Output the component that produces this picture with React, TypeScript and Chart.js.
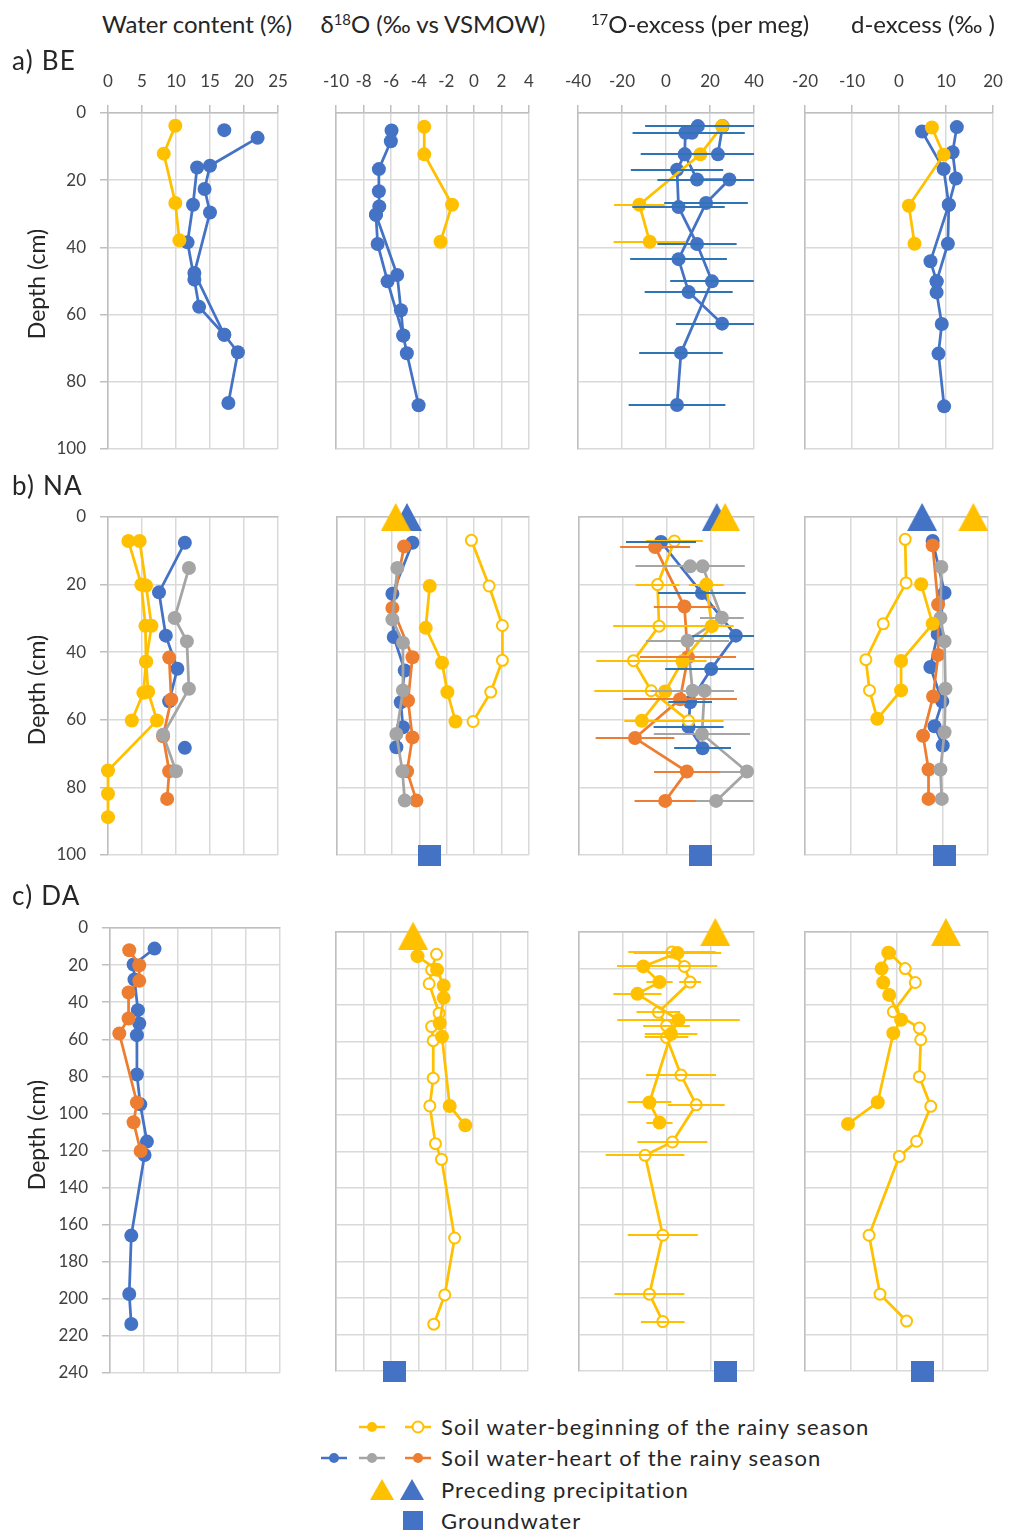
import React, { useEffect, useRef } from 'react';
import { Chart, registerables } from 'chart.js';

Chart.register(...registerables);

// ---------- colours & fonts ----------
const BLUE = '#4472C4';
const ORANGE = '#ED7D31';
const GRAY = '#A5A5A5';
const YELLOW = '#FFC000';
const BLUE_ERR = '#2E75B6';
const GRID = '#D9D9D9';
const AXIS = '#BFBFBF';
const TEXT = '#262626';
const TICK = '#404040';
const FONT = 'Lato, "Open Sans", "DejaVu Sans", sans-serif';

// ---------- axis ticks [min, max, step] ----------
const X_WC = [0, 25, 5];
const X_D18O = [-10, 4, 2];
const X_O17 = [-40, 40, 20];
const X_DEX = [-20, 20, 10];
const DEPTH_MAX_AB = 100;
const DEPTH_MAX_C = 240;
const DEPTH_STEP = 20;

// ---------- data: [value, depth (cm)] ----------
// a) BE
const BE_WC_BLUE_A = [[22.0, 7.4], [15.0, 15.7], [14.2, 22.6], [15.0, 29.6], [12.7, 47.6], [17.1, 66.0], [19.1, 71.2], [17.7, 86.3]];
const BE_WC_BLUE_B = [[13.1, 16.2], [12.5, 27.3], [11.7, 38.5], [12.7, 49.6], [13.4, 57.7], [17.1, 66.0]];
const BE_WC_BLUE_C = [[17.1, 5.1]];
const BE_WC_YEL = [[9.9, 3.8], [8.2, 12.1], [9.9, 26.8], [10.5, 37.9]];

const BE_D18O_BLUE_A = [[-5.97, 5.2], [-6.02, 8.4], [-6.89, 16.7], [-6.89, 23.3], [-6.86, 27.8], [-7.1, 30.3], [-5.56, 48.2], [-5.29, 58.7], [-5.12, 66.2], [-4.86, 71.5], [-4.01, 87.0]];
const BE_D18O_BLUE_B = [[-7.1, 30.3], [-6.98, 39.0], [-6.26, 50.1], [-5.12, 66.2]];
const BE_D18O_YEL = [[-3.6, 4.1], [-3.6, 12.3], [-1.58, 27.3], [-2.42, 38.3]];

const BE_O17_BLUE_A = [[14.5, 3.9], [11.8, 5.9], [8.8, 5.9], [8.5, 12.3], [5.0, 16.9], [5.7, 28.0], [14.1, 39.0], [20.9, 50.1], [6.8, 71.4], [5.0, 86.9]];
const BE_O17_BLUE_A_ERR = [24, 24, 24, 20, 21, 21, 18, 19, 19, 22];
const BE_O17_BLUE_B = [[25.7, 3.9], [23.6, 12.3]];
const BE_O17_BLUE_B_ERR = [22, 20];
const BE_O17_BLUE_C = [[8.5, 12.3], [14.1, 19.8], [28.8, 19.8], [18.2, 26.8], [5.7, 43.5], [10.3, 53.3], [25.5, 62.7]];
const BE_O17_BLUE_C_ERR = [0, 18, 20, 19, 22, 20, 21];
const BE_O17_YEL = [[25.5, 3.9], [15.6, 12.3], [-12.1, 27.3], [-7.4, 38.3]];
const BE_O17_YEL_ERR = [15, 20, 11.5, 16.4];

const BE_DX_BLUE_A = [[4.9, 5.5], [9.5, 16.7], [10.6, 27.3], [6.7, 44.1], [8.0, 50.1], [8.0, 53.4], [9.1, 62.8], [8.4, 71.6], [9.6, 87.3]];
const BE_DX_BLUE_B = [[12.3, 4.2], [11.4, 11.7], [12.1, 19.5], [10.6, 27.3], [10.4, 38.9], [8.0, 50.1]];
const BE_DX_YEL = [[7.0, 4.3], [9.5, 12.4], [2.1, 27.6], [3.3, 38.9]];

// b) NA
const NA_WC_YEL_1 = [[3.0, 7.1], [4.9, 20.0], [5.5, 32.2], [5.6, 42.8], [5.2, 52.0], [3.5, 60.2]];
const NA_WC_YEL_2 = [[4.65, 7.1], [5.6, 20.3], [6.4, 32.2], [5.6, 42.8], [5.9, 51.7], [7.2, 60.2], [0, 75.0], [0, 81.9], [0, 88.8]];
const NA_WC_BLUE = [[11.3, 7.6], [7.5, 22.3], [8.5, 35.1], [10.2, 44.9], [9.0, 54.5]];
const NA_WC_BLUE_2 = [[11.3, 68.3]];
const NA_WC_GRAY = [[11.9, 15.1], [9.8, 29.9], [11.6, 36.8], [11.9, 50.8], [8.1, 64.4], [10.0, 75.2]];
const NA_WC_ORANGE = [[9.0, 41.6], [9.3, 54.0], [8.1, 64.9], [9.0, 75.2], [8.7, 83.4]];

const NA_D18O_YEL_F = [[-3.24, 20.4], [-3.53, 32.8], [-2.34, 43.1], [-1.95, 51.8], [-1.36, 60.5]];
const NA_D18O_YEL_O = [[-0.2, 6.9], [1.09, 20.4], [2.06, 32.1], [2.06, 42.4], [1.21, 51.8], [-0.08, 60.5]];
const NA_D18O_BLUE = [[-4.5, 7.6], [-5.96, 22.7], [-5.86, 35.5], [-5.06, 45.4], [-5.35, 54.8], [-5.19, 62.2], [-5.67, 68.1]];
const NA_D18O_ORANGE = [[-5.11, 8.7], [-5.96, 26.9], [-4.5, 41.5], [-4.82, 54.3], [-4.5, 65.2], [-4.89, 75.2], [-4.21, 83.9]];
const NA_D18O_GRAY = [[-5.6, 15.1], [-5.96, 30.3], [-5.19, 37.2], [-5.19, 51.3], [-5.67, 64.2], [-5.23, 75.2], [-5.06, 83.9]];
const NA_D18O_RAIN_BLUE = [[-4.9, 0]];
const NA_D18O_RAIN_YEL = [[-5.72, 0]];
const NA_D18O_GW = [[-3.24, 100]];

const NA_O17_YEL_F = [[18.2, 20.0], [20.7, 32.3], [7.3, 42.7], [-0.6, 51.6], [-11.3, 60.3]];
const NA_O17_YEL_F_ERR = [8, 10, 11, 10, 8];
const NA_O17_YEL_O = [[3.6, 7.1], [-4.1, 20.0], [-3.4, 32.3], [-15.1, 42.5], [-7.0, 51.4], [10.1, 60.3]];
const NA_O17_YEL_O_ERR = [13, 10, 21, 17, 26, 16];
const NA_O17_BLUE = [[-2.5, 7.4], [16.2, 22.5], [31.7, 35.1], [20.4, 45.0], [10.8, 54.8], [10.1, 62.1], [16.5, 68.4]];
const NA_O17_BLUE_ERR = [16, 20, 20, 21, 10, 16, 13];
const NA_O17_ORANGE = [[-5.2, 8.9], [8.2, 26.5], [9.8, 41.5], [6.2, 53.9], [-14.4, 65.4], [9.3, 75.3], [-0.6, 84.0]];
const NA_O17_ORANGE_ERR = [16, 14, 22, 26, 18, 15, 14];
const NA_O17_GRAY = [[10.8, 14.6], [16.5, 14.6], [25.3, 29.8], [9.6, 36.6], [11.9, 51.4], [17.4, 51.4], [16.2, 64.2], [36.8, 75.3], [22.7, 84.0]];
const NA_O17_GRAY_ERR = [25, 0, 10, 19, 19, 0, 22, 20, 17];
const NA_O17_RAIN_BLUE = [[23.0, 0]];
const NA_O17_RAIN_YEL = [[26.8, 0]];
const NA_O17_GW = [[15.4, 100]];

const NA_DX_YEL_O = [[1.9, 6.6], [2.1, 19.5], [-2.9, 31.6], [-6.7, 42.2], [-5.9, 51.3], [-4.2, 59.7]];
const NA_DX_YEL_F = [[5.4, 19.9], [7.9, 31.6], [1.0, 42.6], [1.0, 51.3], [-4.2, 59.7]];
const NA_DX_BLUE = [[7.9, 7.1], [10.5, 22.4], [9.0, 34.6], [7.4, 44.4], [10.0, 54.6], [8.3, 61.9], [10.1, 67.6]];
const NA_DX_ORANGE = [[7.9, 8.4], [9.1, 25.9], [9.1, 40.8], [8.0, 53.1], [5.8, 64.7], [7.0, 74.7], [7.0, 83.4]];
const NA_DX_GRAY = [[9.8, 14.8], [9.6, 29.9], [10.5, 36.8], [10.7, 50.8], [10.5, 63.7], [9.6, 74.7], [9.9, 83.4]];
const NA_DX_RAIN_BLUE = [[5.6, 0]];
const NA_DX_RAIN_YEL = [[16.8, 0]];
const NA_DX_GW = [[10.5, 100]];

// c) DA
const DA_WC_BLUE = [[6.55, 11.1], [3.47, 19.7], [3.6, 27.8], [4.1, 44.3], [4.3, 51.5], [3.96, 57.8], [3.96, 79.0], [4.45, 95.1], [5.43, 115.2], [5.08, 122.4], [3.13, 165.9], [2.83, 197.4], [3.13, 213.6]];
const DA_WC_ORANGE = [[2.83, 12.0], [4.3, 20.1], [4.3, 28.5], [2.73, 34.8], [2.73, 48.8], [1.37, 56.9], [3.96, 94.1], [3.47, 104.8], [4.5, 120.3]];

const DA_D18O_YEL_F = [[-4.06, 13.2], [-2.63, 20.7], [-2.15, 29.3], [-2.15, 36.0], [-2.44, 49.9], [-2.27, 57.2], [-1.71, 95.1], [-0.57, 105.7]];
const DA_D18O_YEL_O = [[-2.67, 12.2], [-3.03, 20.7], [-3.21, 28.3], [-2.48, 44.4], [-3.03, 51.7], [-2.91, 59.4], [-2.91, 79.9], [-3.16, 95.1], [-2.75, 115.7], [-2.31, 124.3], [-1.35, 167.3], [-2.07, 198.4], [-2.87, 214.4]];
const DA_D18O_RAIN_YEL = [[-4.38, 2]];
const DA_D18O_GW = [[-5.7, 240]];

const DA_O17_YEL_F = [[5.0, 11.5], [-10.6, 18.8], [-3.2, 27.4], [-13.3, 33.8], [5.5, 48.1], [2.1, 55.8], [-7.8, 93.2], [-3.2, 104.2]];
const DA_O17_YEL_F_ERR = [20, 12, 6, 11, 28, 12, 10, 6];
const DA_O17_YEL_O = [[2.5, 11.0], [8.2, 18.8], [10.8, 27.4], [-3.7, 43.9], [0.0, 51.2], [0.0, 57.6], [6.6, 78.2], [13.6, 94.5], [2.7, 114.8], [-9.8, 122.1], [-1.7, 165.8], [-7.8, 198.0], [-1.7, 213.0]];
const DA_O17_YEL_O_ERR = [20, 15, 5, 10, 10.7, 10, 16, 13, 16, 18, 16, 16, 10];
const DA_O17_RAIN_YEL = [[22.3, 0]];
const DA_O17_GW = [[26.8, 240]];

const DA_DX_YEL_F = [[-1.8, 11.3], [-3.25, 20.0], [-2.9, 27.6], [-1.6, 34.4], [1.0, 48.0], [-0.7, 55.3], [-4.1, 93.1], [-10.6, 104.9]];
const DA_DX_YEL_O = [[-1.5, 11.5], [1.9, 20.0], [4.1, 27.6], [-0.7, 43.6], [5.0, 52.5], [5.3, 58.9], [5.0, 79.1], [7.5, 95.3], [4.4, 114.4], [0.6, 122.7], [-6.0, 165.8], [-3.6, 198.0], [2.2, 212.7]];
const DA_DX_RAIN_YEL = [[10.8, 0]];
const DA_DX_GW = [[5.7, 240]];

// ---------- text ----------
const COL_TITLES = ['Water content (%)', 'δ18O (‰ vs VSMOW)', '17O-excess (per meg)', 'd-excess (‰ )'];
const ROW_LABELS = ['a) BE', 'b) NA', 'c) DA'];
const LEGEND_LABELS = ['Soil water-beginning of the rainy season', 'Soil water-heart of the rainy season', 'Preceding precipitation', 'Groundwater'];

// ---------- series helpers ----------
type Series = { data: number[][]; color: string; kind: string; line: boolean; err?: number[] };
const ln = (data: number[][], color: string, err?: number[]): Series => ({ data, color, kind: 'filled', line: true, err });
const op = (data: number[][], color: string, err?: number[]): Series => ({ data, color, kind: 'open', line: true, err });
const dot = (data: number[][], color: string): Series => ({ data, color, kind: 'filled', line: false });
const tri = (data: number[][], color: string): Series => ({ data, color, kind: 'tri', line: false });
const sq = (data: number[][], color: string): Series => ({ data, color, kind: 'sq', line: false });

const imgCache: Record<string, HTMLCanvasElement> = {};
function markerImage(kind: string, color: string): HTMLCanvasElement {
  const key = kind + color;
  if (imgCache[key]) return imgCache[key];
  const c = document.createElement('canvas');
  const w = kind === 'tri' ? 30 : 23;
  const h = kind === 'tri' ? 28 : 21;
  c.width = w;
  c.height = h;
  const g = c.getContext('2d') as CanvasRenderingContext2D;
  g.fillStyle = color;
  if (kind === 'tri') {
    g.beginPath();
    g.moveTo(w / 2, 0);
    g.lineTo(w, h);
    g.lineTo(0, h);
    g.closePath();
    g.fill();
  } else {
    g.fillRect(0, 0, w, h);
  }
  imgCache[key] = c;
  return c;
}

function makeDataset(s: Series) {
  const ds: any = {
    data: s.data.map((d) => ({ x: d[0], y: d[1] })),
    clip: false,
    showLine: s.line,
    borderColor: s.color,
    borderWidth: 2.75,
    backgroundColor: s.color,
    errs: s.err,
    errColor: s.color === BLUE ? BLUE_ERR : s.color,
    errZ: s.color === YELLOW ? 0 : 1,
  };
  if (s.kind === 'filled') {
    ds.pointStyle = 'circle';
    ds.pointRadius = 7;
    ds.pointBackgroundColor = s.color;
    ds.pointBorderColor = s.color;
    ds.pointBorderWidth = 0;
  } else if (s.kind === 'open') {
    ds.pointStyle = 'circle';
    ds.pointRadius = 5.5;
    ds.pointBackgroundColor = '#FFFFFF';
    ds.pointBorderColor = s.color;
    ds.pointBorderWidth = 2;
  } else {
    ds.pointStyle = markerImage(s.kind, s.color);
    ds.pointRadius = 10;
  }
  return ds;
}

const errorBarPlugin = {
  id: 'errbars',
  afterDatasetsDraw(chart: any) {
    const { ctx, chartArea, scales } = chart;
    const x = scales.x;
    const y = scales.y;
    ctx.save();
    ctx.beginPath();
    ctx.rect(chartArea.left, chartArea.top, chartArea.right - chartArea.left, chartArea.bottom - chartArea.top);
    ctx.clip();
    const list = chart.data.datasets.filter((d: any) => d.errs).slice().sort((a: any, b: any) => a.errZ - b.errZ);
    list.forEach((ds: any) => {
      ctx.strokeStyle = ds.errColor;
      ctx.lineWidth = 2;
      ds.data.forEach((p: any, i: number) => {
        const e = ds.errs[i];
        if (!e) return;
        const py = Math.round(y.getPixelForValue(p.y));
        ctx.beginPath();
        ctx.moveTo(x.getPixelForValue(p.x - e), py);
        ctx.lineTo(x.getPixelForValue(p.x + e), py);
        ctx.stroke();
      });
    });
    ctx.restore();
  },
};

// ---------- panels ----------
type PanelSpec = {
  left: number; top: number; w: number; h: number;
  xr: number[]; ymax: number; xTicks: boolean; yTicks: boolean; series: Series[];
};

const ROW_A_TOP = 113, ROW_A_H = 336;
const ROW_B_TOP = 517, ROW_B_H = 338;
const ROW_C1_TOP = 928, ROW_C1_H = 445;
const ROW_C_TOP = 932, ROW_C_H = 439;

const PANELS: PanelSpec[] = [
  // row a
  { left: 108, top: ROW_A_TOP, w: 170, h: ROW_A_H, xr: X_WC, ymax: DEPTH_MAX_AB, xTicks: true, yTicks: true,
    series: [ln(BE_WC_BLUE_A, BLUE), ln(BE_WC_BLUE_B, BLUE), dot(BE_WC_BLUE_C, BLUE), ln(BE_WC_YEL, YELLOW)] },
  { left: 336, top: ROW_A_TOP, w: 193, h: ROW_A_H, xr: X_D18O, ymax: DEPTH_MAX_AB, xTicks: true, yTicks: false,
    series: [ln(BE_D18O_BLUE_A, BLUE), ln(BE_D18O_BLUE_B, BLUE), ln(BE_D18O_YEL, YELLOW)] },
  { left: 578, top: ROW_A_TOP, w: 176, h: ROW_A_H, xr: X_O17, ymax: DEPTH_MAX_AB, xTicks: true, yTicks: false,
    series: [ln(BE_O17_BLUE_A, BLUE, BE_O17_BLUE_A_ERR), ln(BE_O17_BLUE_B, BLUE, BE_O17_BLUE_B_ERR), ln(BE_O17_BLUE_C, BLUE, BE_O17_BLUE_C_ERR), ln(BE_O17_YEL, YELLOW, BE_O17_YEL_ERR)] },
  { left: 805, top: ROW_A_TOP, w: 188, h: ROW_A_H, xr: X_DEX, ymax: DEPTH_MAX_AB, xTicks: true, yTicks: false,
    series: [ln(BE_DX_BLUE_A, BLUE), ln(BE_DX_BLUE_B, BLUE), ln(BE_DX_YEL, YELLOW)] },
  // row b
  { left: 108, top: ROW_B_TOP, w: 170, h: ROW_B_H, xr: X_WC, ymax: DEPTH_MAX_AB, xTicks: false, yTicks: true,
    series: [ln(NA_WC_BLUE, BLUE), dot(NA_WC_BLUE_2, BLUE), ln(NA_WC_ORANGE, ORANGE), ln(NA_WC_GRAY, GRAY), ln(NA_WC_YEL_1, YELLOW), ln(NA_WC_YEL_2, YELLOW)] },
  { left: 337, top: ROW_B_TOP, w: 192, h: ROW_B_H, xr: X_D18O, ymax: DEPTH_MAX_AB, xTicks: false, yTicks: false,
    series: [ln(NA_D18O_BLUE, BLUE), ln(NA_D18O_ORANGE, ORANGE), ln(NA_D18O_GRAY, GRAY), op(NA_D18O_YEL_O, YELLOW), ln(NA_D18O_YEL_F, YELLOW),
      tri(NA_D18O_RAIN_BLUE, BLUE), tri(NA_D18O_RAIN_YEL, YELLOW), sq(NA_D18O_GW, BLUE)] },
  { left: 579, top: ROW_B_TOP, w: 175, h: ROW_B_H, xr: X_O17, ymax: DEPTH_MAX_AB, xTicks: false, yTicks: false,
    series: [ln(NA_O17_BLUE, BLUE, NA_O17_BLUE_ERR), ln(NA_O17_ORANGE, ORANGE, NA_O17_ORANGE_ERR), ln(NA_O17_GRAY, GRAY, NA_O17_GRAY_ERR),
      op(NA_O17_YEL_O, YELLOW, NA_O17_YEL_O_ERR), ln(NA_O17_YEL_F, YELLOW, NA_O17_YEL_F_ERR),
      tri(NA_O17_RAIN_BLUE, BLUE), tri(NA_O17_RAIN_YEL, YELLOW), sq(NA_O17_GW, BLUE)] },
  { left: 805, top: ROW_B_TOP, w: 183, h: ROW_B_H, xr: X_DEX, ymax: DEPTH_MAX_AB, xTicks: false, yTicks: false,
    series: [ln(NA_DX_BLUE, BLUE), ln(NA_DX_ORANGE, ORANGE), ln(NA_DX_GRAY, GRAY), op(NA_DX_YEL_O, YELLOW), ln(NA_DX_YEL_F, YELLOW),
      tri(NA_DX_RAIN_BLUE, BLUE), tri(NA_DX_RAIN_YEL, YELLOW), sq(NA_DX_GW, BLUE)] },
  // row c
  { left: 110, top: ROW_C1_TOP, w: 170, h: ROW_C1_H, xr: X_WC, ymax: DEPTH_MAX_C, xTicks: false, yTicks: true,
    series: [ln(DA_WC_BLUE, BLUE), ln(DA_WC_ORANGE, ORANGE)] },
  { left: 336, top: ROW_C_TOP, w: 192, h: ROW_C_H, xr: X_D18O, ymax: DEPTH_MAX_C, xTicks: false, yTicks: false,
    series: [op(DA_D18O_YEL_O, YELLOW), ln(DA_D18O_YEL_F, YELLOW), tri(DA_D18O_RAIN_YEL, YELLOW), sq(DA_D18O_GW, BLUE)] },
  { left: 579, top: ROW_C_TOP, w: 175, h: ROW_C_H, xr: X_O17, ymax: DEPTH_MAX_C, xTicks: false, yTicks: false,
    series: [op(DA_O17_YEL_O, YELLOW, DA_O17_YEL_O_ERR), ln(DA_O17_YEL_F, YELLOW, DA_O17_YEL_F_ERR), tri(DA_O17_RAIN_YEL, YELLOW), sq(DA_O17_GW, BLUE)] },
  { left: 805, top: ROW_C_TOP, w: 183, h: ROW_C_H, xr: X_DEX, ymax: DEPTH_MAX_C, xTicks: false, yTicks: false,
    series: [op(DA_DX_YEL_O, YELLOW), ln(DA_DX_YEL_F, YELLOW), tri(DA_DX_RAIN_YEL, YELLOW), sq(DA_DX_GW, BLUE)] },
];

const PAD_L = 26, PAD_R = 24, PAD_T = 20, PAD_B = 16;
const Y_AXIS_W = 60, X_AXIS_H = 50;

function Panel({ spec }: { spec: PanelSpec }) {
  const ref = useRef<HTMLCanvasElement>(null);
  const yw = spec.yTicks ? Y_AXIS_W : 0;
  const xh = spec.xTicks ? X_AXIS_H : 0;
  const cw = PAD_L + yw + spec.w + PAD_R;
  const ch = PAD_T + xh + spec.h + PAD_B;
  const left = spec.left - PAD_L - yw;
  const top = spec.top - PAD_T - xh;

  useEffect(() => {
    const canvas = ref.current;
    if (!canvas) return;
    const tickFont = { family: FONT, size: 17 };
    const noPad = (s: any) => {
      s.paddingLeft = 0;
      s.paddingRight = 0;
      s.paddingTop = 0;
      s.paddingBottom = 0;
    };
    const chart = new Chart(canvas, {
      type: 'scatter',
      data: { datasets: spec.series.map(makeDataset).reverse() },
      options: {
        animation: false,
        responsive: false,
        maintainAspectRatio: false,
        events: [],
        layout: { padding: { left: PAD_L, right: PAD_R, top: PAD_T, bottom: PAD_B } },
        plugins: { legend: { display: false }, tooltip: { enabled: false } },
        scales: {
          x: {
            type: 'linear',
            position: 'top',
            min: spec.xr[0],
            max: spec.xr[1],
            ticks: { stepSize: spec.xr[2], display: spec.xTicks, color: TICK, font: tickFont, padding: 13, autoSkip: false, maxRotation: 0, minRotation: 0 },
            grid: { color: GRID, lineWidth: 1.5, drawTicks: spec.xTicks, tickLength: 8, tickColor: AXIS },
            border: { display: true, color: AXIS, width: 1.5 },
            afterFit: (s: any) => { s.height = xh; noPad(s); },
          },
          y: {
            type: 'linear',
            position: 'left',
            reverse: true,
            min: 0,
            max: spec.ymax,
            ticks: { stepSize: DEPTH_STEP, display: spec.yTicks, color: TICK, font: tickFont, padding: 14, autoSkip: false },
            grid: { color: GRID, lineWidth: 1.5, drawTicks: spec.yTicks, tickLength: 8, tickColor: AXIS },
            border: { display: true, color: AXIS, width: 1.5 },
            afterFit: (s: any) => { s.width = yw; noPad(s); },
          },
        },
      } as any,
      plugins: [errorBarPlugin as any],
    });
    return () => chart.destroy();
  }, []);

  return (
    <canvas
      ref={ref}
      width={cw}
      height={ch}
      style={{ position: 'absolute', left, top, width: cw, height: ch }}
    />
  );
}

const textBase: React.CSSProperties = {
  position: 'absolute',
  fontFamily: FONT,
  color: TEXT,
  whiteSpace: 'nowrap',
  lineHeight: 1,
};

function Centered({ x, y, size, children, rotate }: any) {
  return (
    <div style={{ ...textBase, left: x, top: y, fontSize: size, transform: `translate(-50%, -50%)${rotate ? ' rotate(-90deg)' : ''}` }}>
      {children}
    </div>
  );
}

const SUP: React.CSSProperties = { fontSize: '0.62em', verticalAlign: '0.55em' };

function Legend() {
  const ox = 300, oy = 1400;
  const Y1 = 1427 - oy, Y2 = 1458 - oy, Y3 = 1490 - oy, Y4 = 1521 - oy;
  const tri = (cx: number, cy: number, c: string) => (
    <polygon points={`${cx},${cy - 11} ${cx + 12},${cy + 10} ${cx - 12},${cy + 10}`} fill={c} />
  );
  const dotLine = (cx: number, cy: number, c: string, open?: boolean) => (
    <g>
      <line x1={cx - 13} y1={cy} x2={cx + 13} y2={cy} stroke={c} strokeWidth={2.5} />
      <circle cx={cx} cy={cy} r={open ? 5.5 : 5} fill={open ? '#fff' : c} stroke={c} strokeWidth={open ? 2 : 0} />
    </g>
  );
  return (
    <>
      <svg width={150} height={135} style={{ position: 'absolute', left: ox, top: oy }}>
        {dotLine(72, Y1, YELLOW)}
        {dotLine(118, Y1, YELLOW, true)}
        {dotLine(34, Y2, BLUE)}
        {dotLine(72, Y2, GRAY)}
        {dotLine(118, Y2, ORANGE)}
        {tri(82, Y3, YELLOW)}
        {tri(112, Y3, BLUE)}
        <rect x={113 - 10} y={Y4 - 10} width={20} height={19} fill={BLUE} />
      </svg>
      {LEGEND_LABELS.map((t, i) => (
        <div key={t} style={{ ...textBase, left: 441, top: [1427, 1458, 1490, 1521][i], fontSize: 22, letterSpacing: 1.1, transform: 'translateY(-50%)' }}>
          {t}
        </div>
      ))}
    </>
  );
}

export default function App() {
  const rowLabel = (y: number, t: string) => (
    <div style={{ ...textBase, left: 12, top: y, fontSize: 26, letterSpacing: 1.2, transform: 'translateY(-50%)' }}>{t}</div>
  );
  return (
    <div style={{ position: 'absolute', left: 0, top: 0, width: 1009, height: 1531, background: '#fff', overflow: 'hidden' }}>
      {PANELS.map((p, i) => (
        <Panel key={i} spec={p} />
      ))}
      <Centered x={197} y={24} size={24}>{COL_TITLES[0]}</Centered>
      <Centered x={433} y={24} size={24}>δ<span style={SUP}>18</span>O (‰ vs VSMOW)</Centered>
      <Centered x={700} y={24} size={24}><span style={SUP}>17</span>O-excess (per meg)</Centered>
      <Centered x={923} y={24} size={24}>{COL_TITLES[3]}</Centered>
      {rowLabel(60, ROW_LABELS[0])}
      {rowLabel(485, ROW_LABELS[1])}
      {rowLabel(895, ROW_LABELS[2])}
      <Centered x={36} y={284} size={23} rotate>Depth (cm)</Centered>
      <Centered x={36} y={690} size={23} rotate>Depth (cm)</Centered>
      <Centered x={36} y={1135} size={23} rotate>Depth (cm)</Centered>
      <Legend />
    </div>
  );
}
